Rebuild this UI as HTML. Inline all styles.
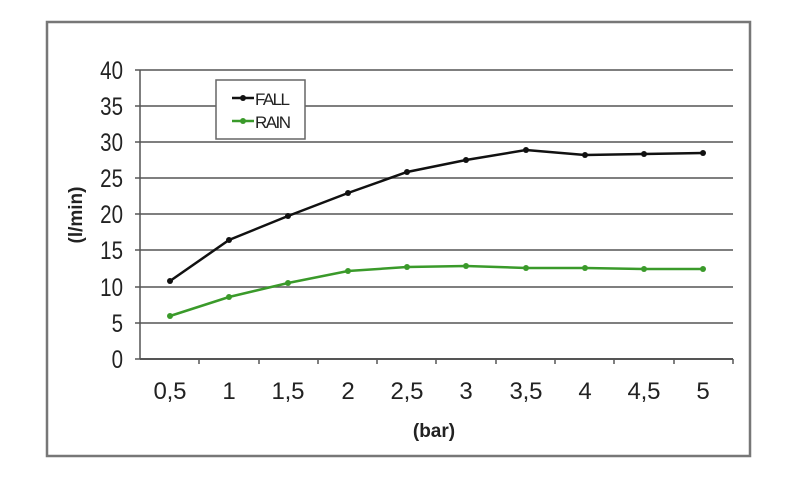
<!DOCTYPE html>
<html><head><meta charset="utf-8"><style>
html,body{margin:0;padding:0;background:#fff;}
svg{display:block;}
text{font-family:"Liberation Sans",Arial,sans-serif;fill:#222;}
</style></head><body>
<svg width="800" height="490" viewBox="0 0 800 490">
<rect x="47" y="22" width="703" height="434" fill="#fff" stroke="#777" stroke-width="2.5"/>
<g stroke="#555" stroke-width="1.5">
<line x1="140" y1="70" x2="733" y2="70"/>
<line x1="140" y1="106" x2="733" y2="106"/>
<line x1="140" y1="142" x2="733" y2="142"/>
<line x1="140" y1="178" x2="733" y2="178"/>
<line x1="140" y1="214" x2="733" y2="214"/>
<line x1="140" y1="250" x2="733" y2="250"/>
<line x1="140" y1="287" x2="733" y2="287"/>
<line x1="140" y1="323" x2="733" y2="323"/>
<line x1="140" y1="359" x2="733" y2="359" stroke-width="2"/>
<line x1="140" y1="70" x2="140" y2="359"/>
<g>
<line x1="135" y1="70" x2="140" y2="70"/><line x1="135" y1="106" x2="140" y2="106"/><line x1="135" y1="142" x2="140" y2="142"/><line x1="135" y1="178" x2="140" y2="178"/><line x1="135" y1="214" x2="140" y2="214"/><line x1="135" y1="250" x2="140" y2="250"/><line x1="135" y1="287" x2="140" y2="287"/><line x1="135" y1="323" x2="140" y2="323"/><line x1="135" y1="359" x2="140" y2="359"/>
</g>
<g>
<line x1="199" y1="359" x2="199" y2="364"/><line x1="259" y1="359" x2="259" y2="364"/><line x1="318" y1="359" x2="318" y2="364"/><line x1="377" y1="359" x2="377" y2="364"/><line x1="436" y1="359" x2="436" y2="364"/><line x1="496" y1="359" x2="496" y2="364"/><line x1="555" y1="359" x2="555" y2="364"/><line x1="614" y1="359" x2="614" y2="364"/><line x1="674" y1="359" x2="674" y2="364"/><line x1="733" y1="359" x2="733" y2="364"/>
</g>
</g>
<g font-size="25" text-anchor="end" transform="scale(0.82,1)">
<text x="150" y="79">40</text><text x="150" y="115">35</text><text x="150" y="151">30</text><text x="150" y="187">25</text><text x="150" y="223">20</text><text x="150" y="259">15</text><text x="150" y="296">10</text><text x="150" y="332">5</text><text x="150" y="368">0</text>
</g>
<g font-size="24" text-anchor="middle">
<text x="170" y="399" textLength="33">0,5</text><text x="229" y="399">1</text><text x="288" y="399" textLength="33">1,5</text><text x="348" y="399">2</text><text x="407" y="399" textLength="33">2,5</text><text x="466" y="399">3</text><text x="526" y="399" textLength="33">3,5</text><text x="585" y="399">4</text><text x="644" y="399" textLength="33">4,5</text><text x="703" y="399">5</text>
</g>
<text x="434" y="437" font-size="19" font-weight="bold" text-anchor="middle">(bar)</text>
<text transform="translate(82,215) rotate(-90)" font-size="19" font-weight="bold" text-anchor="middle">(l/min)</text>
<polyline fill="none" stroke="#111" stroke-width="2.5" points="170,281 229,240 288,216 348,193 407,172 466,160 526,150 585,155 644,154 703,153"/>
<g fill="#111"><circle cx="170" cy="281" r="3"/><circle cx="229" cy="240" r="3"/><circle cx="288" cy="216" r="3"/><circle cx="348" cy="193" r="3"/><circle cx="407" cy="172" r="3"/><circle cx="466" cy="160" r="3"/><circle cx="526" cy="150" r="3"/><circle cx="585" cy="155" r="3"/><circle cx="644" cy="154" r="3"/><circle cx="703" cy="153" r="3"/></g>
<polyline fill="none" stroke="#3a9a2a" stroke-width="2.5" points="170,316 229,297 288,283 348,271 407,267 466,266 526,268 585,268 644,269 703,269"/>
<g fill="#3a9a2a"><circle cx="170" cy="316" r="3"/><circle cx="229" cy="297" r="3"/><circle cx="288" cy="283" r="3"/><circle cx="348" cy="271" r="3"/><circle cx="407" cy="267" r="3"/><circle cx="466" cy="266" r="3"/><circle cx="526" cy="268" r="3"/><circle cx="585" cy="268" r="3"/><circle cx="644" cy="269" r="3"/><circle cx="703" cy="269" r="3"/></g>
<rect x="216" y="80" width="89" height="59" fill="#fff" stroke="#666" stroke-width="1.5"/>
<line x1="232" y1="98" x2="254" y2="98" stroke="#111" stroke-width="2.5"/><circle cx="243" cy="98" r="3" fill="#111"/>
<line x1="232" y1="121" x2="254" y2="121" stroke="#3a9a2a" stroke-width="2.5"/><circle cx="243" cy="121" r="3" fill="#3a9a2a"/>
<text x="255" y="105" font-size="17" textLength="35">FALL</text>
<text x="255" y="128" font-size="17" textLength="36">RAIN</text>
</svg>
</body></html>
